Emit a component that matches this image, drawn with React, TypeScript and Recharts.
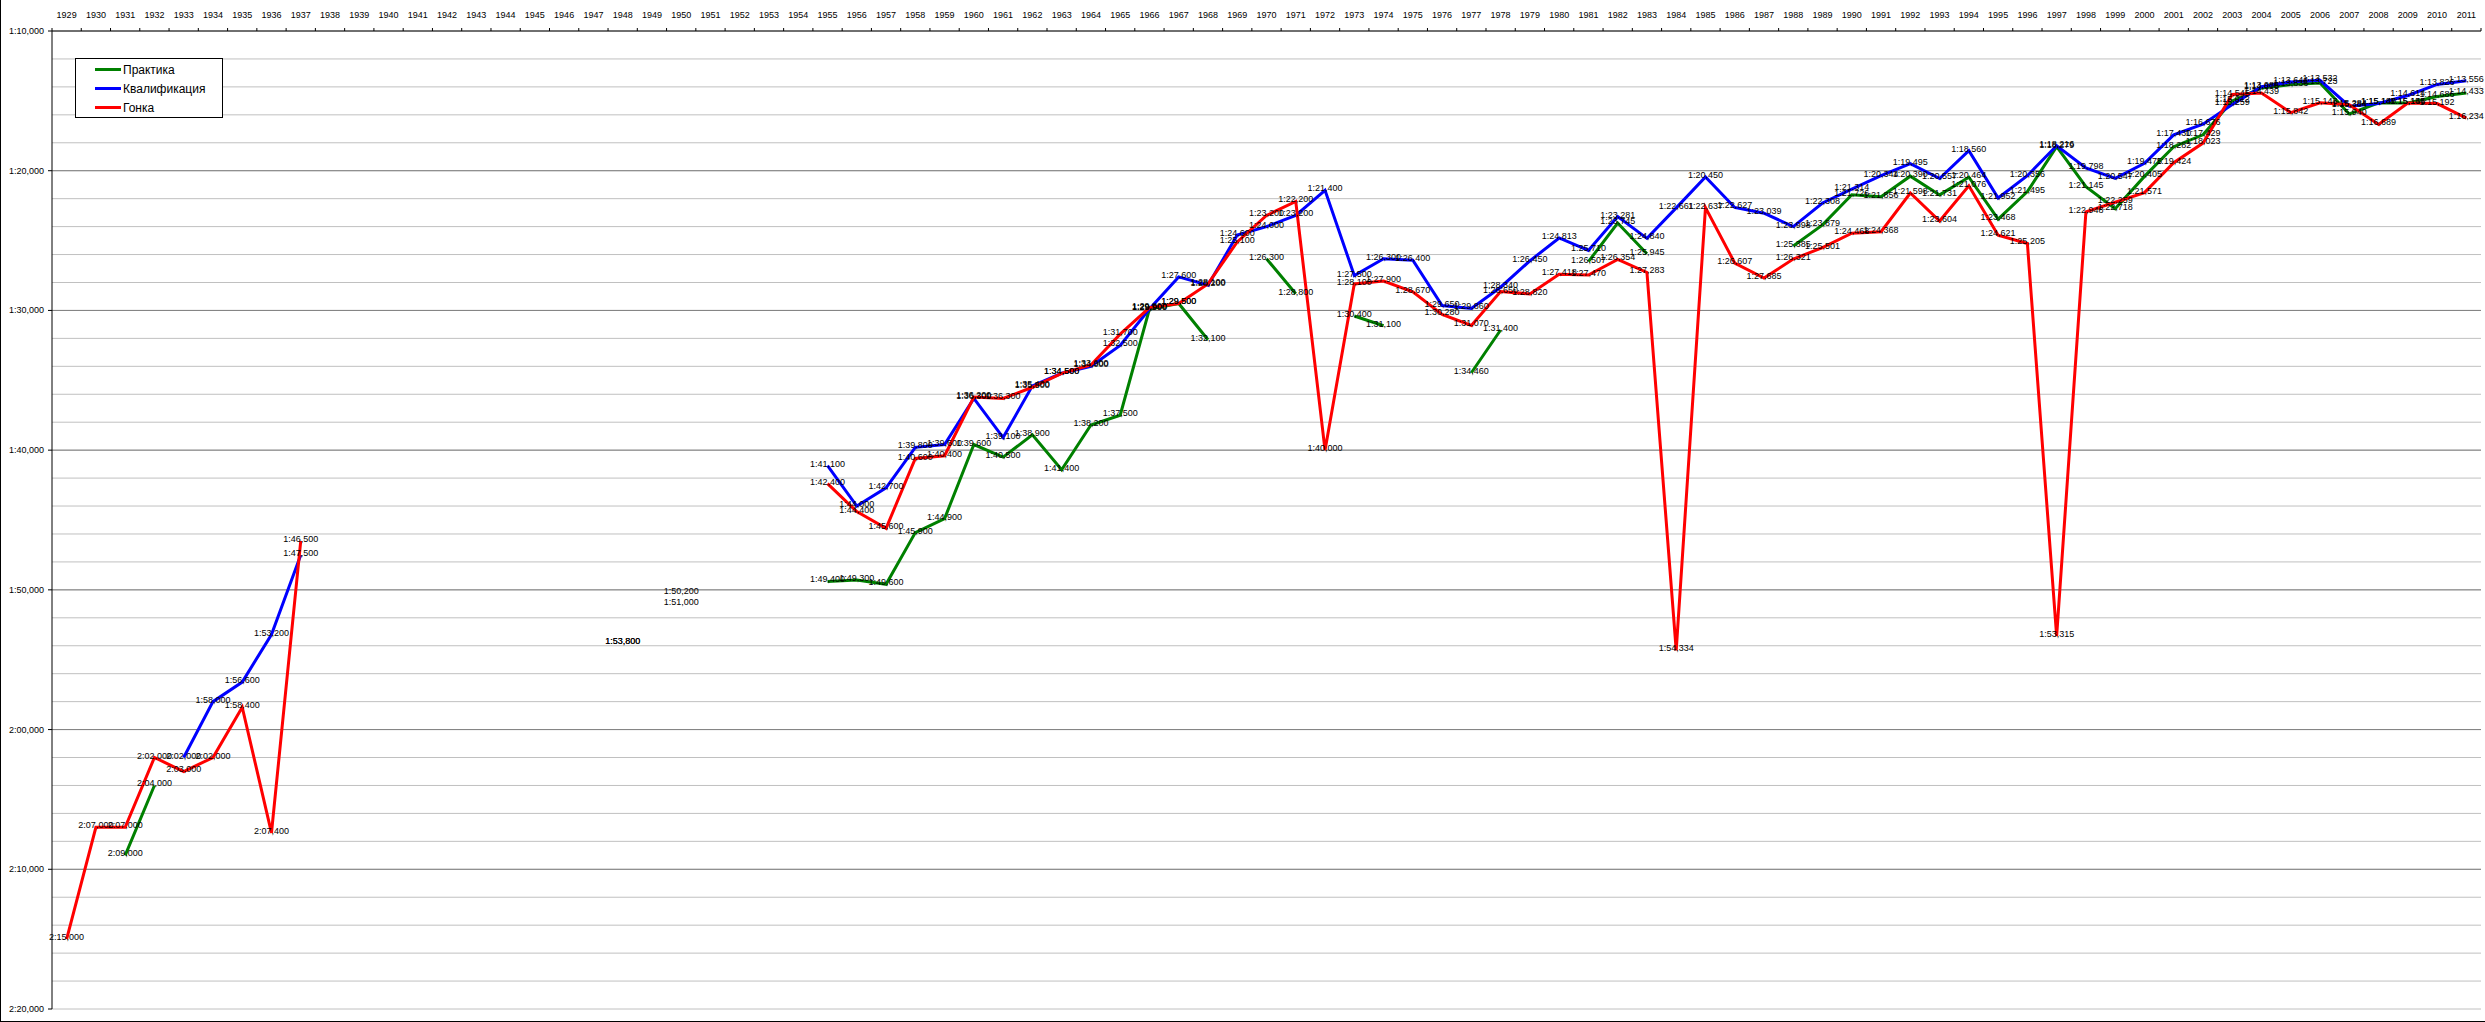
import React from "react";
import {
  CartesianGrid,
  LabelList,
  Legend,
  Line,
  LineChart,
  ReferenceLine,
  XAxis,
  YAxis,
} from "recharts";

// Лучшие времена круга, Монако 1929–2011 (м:сс.ммм)
const YEARS = Array.from({ length: 83 }, (_, i) => String(1929 + i));

const PRACTICE: Record<string, string> = {
  1931: "2:09.000", 1932: "2:04.000",
  1955: "1:49.400", 1956: "1:49.300", 1957: "1:49.600", 1958: "1:45.900", 1959: "1:44.900",
  1960: "1:39.600", 1961: "1:40.500", 1962: "1:38.900", 1963: "1:41.400", 1964: "1:38.200",
  1965: "1:37.500", 1966: "1:29.900", 1967: "1:29.500", 1968: "1:32.100",
  1970: "1:26.300", 1971: "1:28.800", 1973: "1:30.400", 1974: "1:31.100",
  1977: "1:34.460", 1978: "1:31.400",
  1981: "1:26.507", 1982: "1:23.745", 1983: "1:25.945",
  1988: "1:25.385", 1989: "1:23.879", 1990: "1:21.726", 1991: "1:21.856", 1992: "1:20.390",
  1993: "1:21.731", 1994: "1:20.464", 1995: "1:23.468", 1996: "1:21.495", 1997: "1:18.279",
  1998: "1:21.145", 1999: "1:22.718", 2000: "1:20.405", 2001: "1:18.282", 2002: "1:17.429",
  2003: "1:15.012", 2004: "1:14.078", 2005: "1:13.836", 2006: "1:13.723", 2007: "1:15.940",
  2008: "1:15.140", 2009: "1:15.145", 2010: "1:14.686", 2011: "1:14.433",
};

const QUALI: Record<string, string> = {
  1933: "2:02.000", 1934: "1:58.000", 1935: "1:56.600", 1936: "1:53.200", 1937: "1:47.500",
  1948: "1:53.800", 1950: "1:50.200",
  1955: "1:41.100", 1956: "1:44.000", 1957: "1:42.700", 1958: "1:39.800", 1959: "1:39.600",
  1960: "1:36.300", 1961: "1:39.100", 1962: "1:35.400", 1963: "1:34.500", 1964: "1:34.000",
  1965: "1:32.500", 1966: "1:29.900", 1967: "1:27.600", 1968: "1:28.200", 1969: "1:24.600",
  1970: "1:24.000", 1971: "1:23.200", 1972: "1:21.400", 1973: "1:27.500", 1974: "1:26.300",
  1975: "1:26.400", 1976: "1:29.650", 1977: "1:29.860", 1978: "1:28.340", 1979: "1:26.450",
  1980: "1:24.813", 1981: "1:25.710", 1982: "1:23.281", 1983: "1:24.840", 1984: "1:22.661",
  1985: "1:20.450", 1986: "1:22.627", 1987: "1:23.039", 1988: "1:23.998", 1989: "1:22.308",
  1990: "1:21.314", 1991: "1:20.344", 1992: "1:19.495", 1993: "1:20.557", 1994: "1:18.560",
  1995: "1:21.952", 1996: "1:20.356", 1997: "1:18.216", 1998: "1:19.798", 1999: "1:20.547",
  2000: "1:19.475", 2001: "1:17.430", 2002: "1:16.676", 2003: "1:15.259", 2004: "1:13.985",
  2005: "1:13.644", 2006: "1:13.532", 2007: "1:15.384", 2008: "1:15.187", 2009: "1:14.614",
  2010: "1:13.826", 2011: "1:13.556",
};

const RACE: Record<string, string> = {
  1929: "2:15.000", 1930: "2:07.000", 1931: "2:07.000", 1932: "2:02.000", 1933: "2:03.000",
  1934: "2:02.000", 1935: "1:58.400", 1936: "2:07.400", 1937: "1:46.500",
  1948: "1:53.800", 1950: "1:51.000",
  1955: "1:42.400", 1956: "1:44.400", 1957: "1:45.600", 1958: "1:40.600", 1959: "1:40.400",
  1960: "1:36.200", 1961: "1:36.300", 1962: "1:35.500", 1963: "1:34.500", 1964: "1:33.900",
  1965: "1:31.700", 1966: "1:29.800", 1967: "1:29.500", 1968: "1:28.100", 1969: "1:25.100",
  1970: "1:23.200", 1971: "1:22.200", 1972: "1:40.000", 1973: "1:28.100", 1974: "1:27.900",
  1975: "1:28.670", 1976: "1:30.280", 1977: "1:31.070", 1978: "1:28.650", 1979: "1:28.820",
  1980: "1:27.418", 1981: "1:27.470", 1982: "1:26.354", 1983: "1:27.283", 1984: "1:54.334",
  1985: "1:22.637", 1986: "1:26.607", 1987: "1:27.685", 1988: "1:26.321", 1989: "1:25.501",
  1990: "1:24.468", 1991: "1:24.368", 1992: "1:21.598", 1993: "1:23.604", 1994: "1:21.076",
  1995: "1:24.621", 1996: "1:25.205", 1997: "1:53.315", 1998: "1:22.948", 1999: "1:22.259",
  2000: "1:21.571", 2001: "1:19.424", 2002: "1:18.023", 2003: "1:14.545", 2004: "1:14.439",
  2005: "1:15.842", 2006: "1:15.143", 2007: "1:15.284", 2008: "1:16.689", 2009: "1:15.154",
  2010: "1:15.192", 2011: "1:16.234",
};

const SERIES = [
  { key: "practice", label: "Практика", color: "#008000", src: PRACTICE },
  { key: "quali", label: "Квалификация", color: "#0000FF", src: QUALI },
  { key: "race", label: "Гонка", color: "#FF0000", src: RACE },
];

// y axis: seconds, 1:10 .. 2:20
const Y_MAJOR = [70, 80, 90, 100, 110, 120, 130, 140];
const Y_MINOR_STEP = 2;

const FONT = '"Liberation Sans", Arial, sans-serif';
const W = 2484;
const H = 1021;
const PLOT_LEFT = 51;
const PLOT_RIGHT = W - 4;
const BAND = (PLOT_RIGHT - PLOT_LEFT) / YEARS.length;

const toSec = (s?: string) => {
  if (!s) return null;
  const [m, rest] = s.split(":");
  return Number(m) * 60 + Number(rest);
};

const fmt = (v: number) => {
  const ms = Math.round(v * 1000);
  const m = Math.floor(ms / 60000);
  const s = Math.floor((ms % 60000) / 1000);
  const f = ms % 1000;
  return `${m}:${String(s).padStart(2, "0")},${String(f).padStart(3, "0")}`;
};

const data = YEARS.map((year) => {
  const row: Record<string, unknown> = { year };
  SERIES.forEach((s) => (row[s.key] = toSec(s.src[year])));
  return row;
});

const yTicks: number[] = [];
for (let v = Y_MAJOR[0]; v <= Y_MAJOR[Y_MAJOR.length - 1]; v += Y_MINOR_STEP) yTicks.push(v);

const renderLabel = (props: any) => {
  const { value, viewBox } = props;
  const x = props.x ?? viewBox?.x;
  const y = props.y ?? viewBox?.y;
  if (value == null || x == null || y == null) return null;
  return (
    <text x={x} y={y + 1} textAnchor="middle" fontSize={9} fontFamily={FONT} fill="#000">
      {fmt(Number(value))}
    </text>
  );
};

const YTick = (props: any) => {
  const { y, payload } = props;
  if (payload.value % 10 !== 0) return <g />;
  return (
    <g>
      <line x1={PLOT_LEFT - 4} x2={PLOT_LEFT} y1={y} y2={y} stroke="#000" />
      <text x={PLOT_LEFT - 8} y={y + 3} textAnchor="end" fontSize={9} fontFamily={FONT} fill="#000">
        {fmt(payload.value)}
      </text>
    </g>
  );
};

const XTick = (props: any) => {
  const { x, payload, index } = props;
  return (
    <g>
      <text x={x} y={18} textAnchor="middle" fontSize={9} fontFamily={FONT} fill="#000">
        {payload.value}
      </text>
      <line x1={x - BAND / 2} x2={x - BAND / 2} y1={28} y2={31} stroke="#000" />
      {index === YEARS.length - 1 && (
        <line x1={x + BAND / 2} x2={x + BAND / 2} y1={28} y2={31} stroke="#000" />
      )}
    </g>
  );
};

const LegendBox = () => (
  <div
    style={{
      width: 148,
      height: 60,
      boxSizing: "border-box",
      border: "1px solid #000",
      background: "#fff",
      paddingTop: 1,
      fontFamily: FONT,
      fontSize: 12,
    }}
  >
    {SERIES.map((s) => (
      <div key={s.key} style={{ height: 19, display: "flex", alignItems: "center" }}>
        <span style={{ width: 26, height: 3, background: s.color, marginLeft: 19, marginRight: 2 }} />
        <span>{s.label}</span>
      </div>
    ))}
  </div>
);

export default function App() {
  return (
    <div
      style={{
        width: 2485,
        height: 1022,
        boxSizing: "border-box",
        borderLeft: "1px solid #000",
        borderBottom: "1px solid #000",
        background: "#fff",
        position: "relative",
      }}
    >
      <style>{`body{margin:0}`}</style>
      <LineChart width={W} height={H} data={data} margin={{ top: 0, right: 4, bottom: 12, left: 0 }}>
        <CartesianGrid horizontal vertical={false} stroke="#c0c0c0" />
        <XAxis
          dataKey="year"
          orientation="top"
          scale="band"
          interval={0}
          height={31}
          tick={<XTick />}
          tickLine={false}
          axisLine={{ stroke: "#000" }}
        />
        <XAxis xAxisId="b" dataKey="year" orientation="bottom" scale="band" height={0} tick={false} tickLine={false} axisLine={{ stroke: "#000" }} />
        <YAxis
          reversed
          domain={[Y_MAJOR[0], Y_MAJOR[Y_MAJOR.length - 1]]}
          ticks={yTicks}
          interval={0}
          width={PLOT_LEFT}
          tick={<YTick />}
          tickLine={false}
          axisLine={{ stroke: "#000" }}
          allowDataOverflow
        />
        <YAxis yAxisId="r" orientation="right" reversed domain={[Y_MAJOR[0], Y_MAJOR[Y_MAJOR.length - 1]]} width={0} tick={false} tickLine={false} axisLine={{ stroke: "#000" }} />
        {Y_MAJOR.slice(1, -1).map((v) => (
          <ReferenceLine key={v} y={v} stroke="#808080" />
        ))}
        <Legend
          layout="vertical"
          align="center"
          verticalAlign="middle"
          content={<LegendBox />}
          wrapperStyle={{ left: 74, top: 58, width: 148, height: 60 }}
        />
        {SERIES.map((s) => (
          <Line
            key={s.key}
            type="linear"
            dataKey={s.key}
            name={s.label}
            stroke={s.color}
            strokeWidth={3}
            dot={false}
            activeDot={false}
            isAnimationActive={false}
          >
            <LabelList dataKey={s.key} content={renderLabel} />
          </Line>
        ))}
      </LineChart>
    </div>
  );
}
